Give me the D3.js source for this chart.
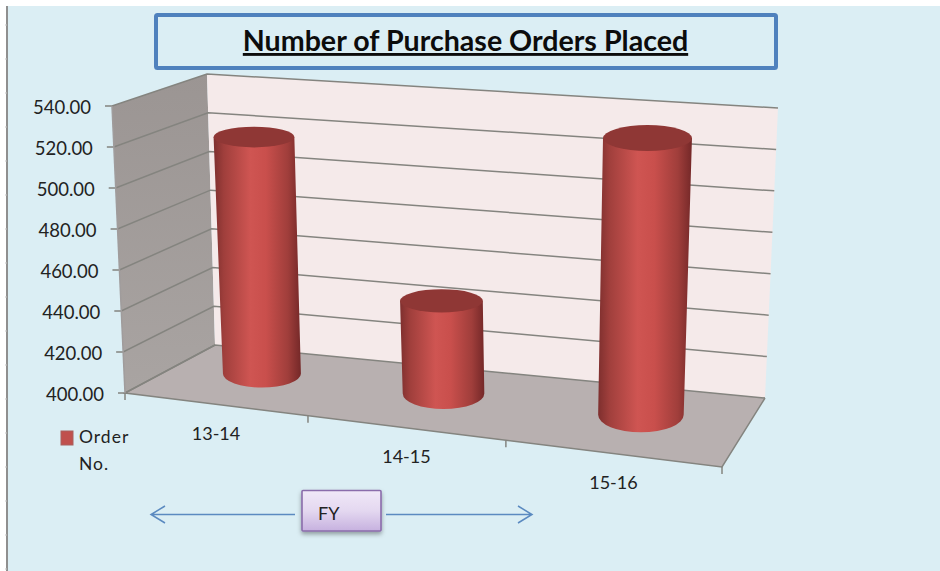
<!DOCTYPE html>
<html>
<head>
<meta charset="utf-8">
<script src="https://d3js.org/d3.v7.min.js"></script>
<style>
  html, body { margin: 0; padding: 0; background: #fff; }
  svg { display: block; }
  text { font-family: Lato, "Open Sans", sans-serif; fill: #222; }
</style>
</head>
<body>
<div class="canvas"></div>
<script>
// chart data
var categories = ["13-14", "14-15", "15-16"];
var orders = [518, 445, 531];
var yTicks = [400, 420, 440, 460, 480, 500, 520, 540];
var seriesName = ["Order", "No."];
var chartTitle = "Number of Purchase Orders Placed";
var axisName = "FY";

var svg = d3.select(".canvas").append("svg")
  .attr("width", 940)
  .attr("height", 571);

var defs = svg.append("defs");

// corners of the 3d box as they land on the screen
var floorBox = { fl: [125, 393], fr: [722, 467], bl: [215, 345], br: [765, 398] };
var roofBox = { fl: [112, 106], fr: [738, 153], bl: [207, 74], br: [778, 108] };

var y = d3.scaleLinear().domain([400, 540]).range([0, 1]);

// the front edge is a bit foreshortened, the category slots are not the same width
var x = d3.scaleLinear()
  .domain([0, 1, 2, 3])
  .range([0, 0.3065, 0.638, 1]);

function mix(a, b, t) {
  return [a[0] + (b[0] - a[0]) * t, a[1] + (b[1] - a[1]) * t];
}

function onPlane(box, u, v) {
  return mix(mix(box.fl, box.fr, u), mix(box.bl, box.br, u), v);
}

// u along the categories, v into the depth, val on the value axis
function project(u, v, val) {
  return mix(onPlane(floorBox, u, v), onPlane(roofBox, u, v), y(val));
}

function poly(points) {
  return "M" + points.map(function(p) { return p[0] + "," + p[1]; }).join("L") + "Z";
}

function gradient(id, x2, y2, stops) {
  var g = defs.append("linearGradient")
    .attr("id", id)
    .attr("x1", 0).attr("y1", 0)
    .attr("x2", x2).attr("y2", y2);
  stops.forEach(function(s) {
    g.append("stop").attr("offset", s[0]).attr("stop-color", s[1]);
  });
}

gradient("barFill", 1, 0, [[0, "#7e2f2e"], [0.12, "#a03f3c"], [0.42, "#cf5552"], [0.6, "#c94f4c"], [0.85, "#a03e3b"], [1, "#742828"]]);
gradient("fyFill", 0, 1, [[0, "#f0e8f8"], [0.5, "#e4d8f0"], [1, "#c6b1df"]]);
gradient("wallFill", 0, 1, [[0, "#9b9593"], [1, "#a9a4a2"]]);

// BACKGROUND

svg.append("rect")
  .attr("x", 7)
  .attr("y", 6)
  .attr("width", 933)
  .attr("height", 565)
  .attr("fill", "#dbeef4");

svg.append("line")
  .attr("x1", 7).attr("y1", 6)
  .attr("x2", 7).attr("y2", 571)
  .attr("stroke", "#8f8f8f")
  .attr("stroke-width", 2);

svg.selectAll(".rulerTick")
  .data(d3.range(25, 571, 34))
  .enter().append("line")
  .attr("class", "rulerTick")
  .attr("x1", 5).attr("x2", 7)
  .attr("y1", function(d) { return d; })
  .attr("y2", function(d) { return d; })
  .attr("stroke", "#c4c4c4");

// TITLE

svg.append("rect")
  .attr("x", 156)
  .attr("y", 15)
  .attr("width", 620)
  .attr("height", 53)
  .attr("rx", 1.5)
  .attr("fill", "none")
  .attr("stroke", "#4f81bd")
  .attr("stroke-width", 4);

svg.append("text")
  .attr("x", 465.5)
  .attr("y", 51)
  .attr("text-anchor", "middle")
  .style("font-size", "28.6px")
  .style("font-weight", "700")
  .style("fill", "#0c0c0c")
  .style("text-decoration", "underline")
  .text(chartTitle);

// WALLS AND FLOOR

svg.append("path")
  .attr("d", poly([project(0, 0, 540), project(0, 1, 540), project(0, 1, 400), project(0, 0, 400)]))
  .attr("fill", "url(#wallFill)");

svg.append("path")
  .attr("d", poly([project(0, 1, 540), project(1, 1, 540), project(1, 1, 400), project(0, 1, 400)]))
  .attr("fill", "#f5eaea");

svg.append("path")
  .attr("d", poly([project(0, 0, 400), project(1, 0, 400), project(1, 1, 400), project(0, 1, 400)]))
  .attr("fill", "#b8b0b0");

// GRID

var grid = svg.append("g")
  .attr("fill", "none")
  .attr("stroke", "#84847f")
  .attr("stroke-width", 1.5);

grid.selectAll(".grid")
  .data(yTicks)
  .enter().append("path")
  .attr("class", "grid")
  .attr("d", function(d) {
    var a = project(0, 0, d), b = project(0, 1, d), c = project(1, 1, d);
    return "M" + [a[0] - 7, a[1]] + "L" + a + "L" + b + "L" + c;
  });

// front and side edges of the floor, plus the tick marks below them
grid.append("path")
  .attr("d", "M" + project(0, 1, 400) + "L" + project(0, 0, 400) + "L" + project(1, 0, 400) + "L" + project(1, 1, 400));

grid.append("path")
  .attr("stroke", "#a09c9c")
  .attr("d", "M" + project(0, 0, 400) + "L" + project(0, 0, 540));

grid.selectAll(".catTick")
  .data(d3.range(categories.length + 1))
  .enter().append("path")
  .attr("class", "catTick")
  .attr("d", function(d) {
    var p = project(x(d), 0, 400);
    return "M" + p + "L" + [p[0], p[1] + 7];
  });

// VALUE LABELS

svg.selectAll(".yLabel")
  .data(yTicks)
  .enter().append("text")
  .attr("class", "yLabel")
  .attr("x", function(d) { return project(0, 0, d)[0] - 21; })
  .attr("y", function(d) { return project(0, 0, d)[1] + 8; })
  .attr("text-anchor", "end")
  .style("font-size", "18.5px")
  .text(d3.format(".2f"));

// CATEGORY LABELS

svg.selectAll(".catLabel")
  .data(categories)
  .enter().append("text")
  .attr("class", "catLabel")
  .attr("x", function(d, i) { return project(x(i + 0.5), 0, 400)[0] - 0.5; })
  .attr("y", function(d, i) { return project(x(i + 0.5), 0, 400)[1] + 35.5; })
  .attr("text-anchor", "middle")
  .style("font-size", "18px")
  .text(function(d) { return d; });

// CYLINDERS

var halfV = 0.27, midV = 0.59;

function ring(i, val) {
  var u = x(i + 0.5) - 0.006;
  var halfU = 0.067 + 0.01 * u;  // the right hand bar sits a little nearer
  var c = project(u, midV, val);
  var l = project(u - halfU, midV, val);
  var r = project(u + halfU, midV, val);
  var f = project(u, midV - halfV, val);
  var b = project(u, midV + halfV, val);
  return { cx: c[0], cy: c[1], rx: (r[0] - l[0]) / 2, ry: (f[1] - b[1]) / 2 };
}

// the cap keeps about the same flatness whatever the height of the bar
function cap(i, val) {
  var t = ring(i, val);
  t.cx -= 2.5;
  t.ry = ring(i, 540).ry * 1.13;
  return t;
}

var bars = svg.selectAll(".bar")
  .data(orders)
  .enter().append("g")
  .attr("class", "bar");

bars.append("path")
  .attr("fill", "url(#barFill)")
  .attr("d", function(d, i) {
    var t = cap(i, d), b = ring(i, 400);
    return "M" + (t.cx - t.rx) + "," + t.cy +
      "L" + (b.cx - b.rx) + "," + b.cy +
      "A" + b.rx + "," + b.ry + " 0 0 0 " + (b.cx + b.rx) + "," + b.cy +
      "L" + (t.cx + t.rx) + "," + t.cy + "Z";
  });

bars.append("ellipse")
  .attr("fill", "#8f3735")
  .attr("cx", function(d, i) { return cap(i, d).cx; })
  .attr("cy", function(d, i) { return cap(i, d).cy; })
  .attr("rx", function(d, i) { return cap(i, d).rx; })
  .attr("ry", function(d, i) { return cap(i, d).ry; });

// LEGEND

svg.append("rect")
  .attr("x", 61)
  .attr("y", 431)
  .attr("width", 12)
  .attr("height", 14)
  .attr("fill", "#c0504d")
  .attr("stroke", "#a8605e");

svg.selectAll(".legend")
  .data(seriesName)
  .enter().append("text")
  .attr("class", "legend")
  .attr("x", 79)
  .attr("y", function(d, i) { return 443 + i * 27; })
  .style("font-size", "17.5px")
  .style("letter-spacing", "1px")
  .text(function(d) { return d; });

// FY BOX AND ARROWS

[[295, 151], [386, 532]].forEach(function(a) {
  var dir = a[1] > a[0] ? -1 : 1;
  svg.append("path")
    .attr("d", "M" + a[0] + ",514.5L" + a[1] + ",514.5" +
      "M" + (a[1] + dir * 14) + ",506L" + a[1] + ",514.5L" + (a[1] + dir * 14) + ",523")
    .attr("fill", "none")
    .attr("stroke", "#5b8ac0")
    .attr("stroke-width", 1.5);
});

defs.append("filter")
  .attr("id", "fyShadow")
  .attr("x", "-10%").attr("y", "-10%")
  .attr("width", "120%").attr("height", "130%")
  .append("feDropShadow")
  .attr("dx", 0).attr("dy", 2.5)
  .attr("stdDeviation", 2)
  .attr("flood-color", "#000")
  .attr("flood-opacity", 0.35);

svg.append("rect")
  .attr("x", 302)
  .attr("y", 490.5)
  .attr("width", 79)
  .attr("height", 40.5)
  .attr("rx", 1)
  .attr("fill", "url(#fyFill)")
  .attr("stroke", "#8a6cab")
  .attr("stroke-width", 1.6)
  .attr("filter", "url(#fyShadow)");

svg.append("text")
  .attr("x", 318)
  .attr("y", 520)
  .style("font-size", "18px")
  .text(axisName);
</script>
</body>
</html>
